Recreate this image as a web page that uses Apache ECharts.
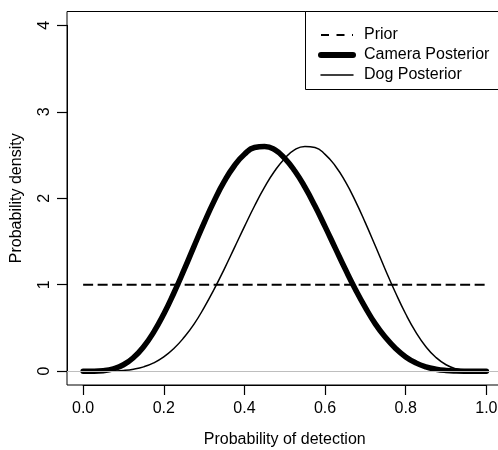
<!DOCTYPE html>
<html>
<head>
<meta charset="utf-8">
<script src="https://cdn.jsdelivr.net/npm/echarts@6/dist/echarts.min.js"></script>
<style>
  html, body { margin: 0; padding: 0; background: #fff; }
  #chart { width: 498px; height: 450px; }
</style>
</head>
<body>
<div id="chart"></div>
<script>
var detection = [0, 0.025, 0.05, 0.075, 0.1, 0.125, 0.15, 0.175, 0.2, 0.225, 0.25,
  0.275, 0.3, 0.325, 0.35, 0.375, 0.4, 0.425, 0.45, 0.475, 0.5,
  0.525, 0.55, 0.575, 0.6, 0.625, 0.65, 0.675, 0.7, 0.725, 0.75,
  0.775, 0.8, 0.825, 0.85, 0.875, 0.9, 0.925, 0.95, 0.975, 1];
var camera = [0, 0.0004, 0.006, 0.027, 0.074, 0.158, 0.283, 0.452, 0.661, 0.904, 1.168,
  1.444, 1.715, 1.970, 2.194, 2.376, 2.508, 2.587, 2.600, 2.562, 2.461,
  2.315, 2.128, 1.910, 1.672, 1.426, 1.181, 0.948, 0.735, 0.544, 0.389,
  0.262, 0.165, 0.096, 0.050, 0.023, 0.008, 0.002, 0.0003, 0, 0];
var dog = [0, 0, 0.0003, 0.002, 0.008, 0.023, 0.050, 0.096, 0.165, 0.262, 0.389,
  0.544, 0.735, 0.948, 1.181, 1.426, 1.672, 1.910, 2.128, 2.315, 2.461,
  2.562, 2.600, 2.587, 2.508, 2.376, 2.194, 1.970, 1.715, 1.444, 1.168,
  0.904, 0.661, 0.452, 0.283, 0.158, 0.074, 0.027, 0.006, 0.0004, 0];
var priorX = [0, 1];
var priorY = [1, 1];
var xTicks = [0, 0.2, 0.4, 0.6, 0.8, 1.0];
var yTicks = [0, 1, 2, 3, 4];

var font = 'Liberation Sans, Arial, sans-serif';

function pairs(xs, ys) {
  return xs.map(function (x, i) { return [x, ys[i]]; });
}

// plot box: data range padded by 4% on each side, as R does
var xPad = 0.04, yPad = 0.16;
var boxLeft = 67, boxTop = 11.5, boxW = 435.5, boxH = 373.5;
var xMin = xTicks[0], xMax = xTicks[xTicks.length - 1];
var yMin = yTicks[0], yMax = yTicks[yTicks.length - 1];
var xSpan = xMax - xMin + 2 * xPad, ySpan = yMax - yMin + 2 * yPad;
// inner grid covers only first..last tick, for R style axes
var axLeft = boxLeft + boxW * xPad / xSpan;
var axW = boxW * (xMax - xMin) / xSpan;
var axTop = boxTop + boxH * yPad / ySpan;
var axH = boxH * (yMax - yMin) / ySpan;

var chart = echarts.init(document.getElementById('chart'));

var option = {
  animation: false,
  grid: [{
    left: boxLeft,
    top: boxTop,
    width: boxW,
    height: boxH,
    outerBoundsMode: 'none',
    containLabel: false,
    show: true,
    borderColor: '#000',
    borderWidth: 1
  }, {
    left: axLeft,
    top: axTop,
    width: axW,
    height: axH,
    outerBoundsMode: 'none',
    containLabel: false,
    show: false
  }],
  // legend frame runs off the right edge, like the original
  graphic: [{
    type: 'rect',
    z: 10,
    shape: { x: 305.5, y: 11.5, width: 260, height: 78 },
    style: { fill: '#fff', stroke: '#000', lineWidth: 1 }
  }],
  legend: {
    data: [
      { name: 'Prior', lineStyle: { width: 2, type: [8, 7.5] } },
      { name: 'Camera Posterior', lineStyle: { width: 6 } },
      { name: 'Dog Posterior', lineStyle: { width: 1.5 } }
    ],
    z: 20,
    orient: 'vertical',
    left: 305,
    top: 11,
    padding: [16, 0, 9, 13],
    itemWidth: 32,
    itemHeight: 14,
    itemGap: 4,
    itemStyle: { opacity: 0 },
    textStyle: {
      fontFamily: font,
      fontSize: 16,
      lineHeight: 16,
      color: '#000',
      padding: [0, 0, 0, 6]
    }
  },
  xAxis: [{
    type: 'value',
    gridIndex: 0,
    min: xMin - xPad,
    max: xMax + xPad,
    show: false
  }, {
    type: 'value',
    gridIndex: 1,
    min: xMin,
    max: xMax,
    interval: 0.2,
    offset: boxTop + boxH - (axTop + axH),
    name: 'Probability of detection',
    nameLocation: 'middle',
    nameGap: 47,
    nameTextStyle: { fontFamily: font, fontSize: 16, color: '#000' },
    axisLine: { show: true, onZero: false, lineStyle: { color: '#000', width: 1 } },
    splitLine: { show: false },
    axisTick: { show: true, inside: false, length: 10, lineStyle: { color: '#000', width: 1.2 } },
    axisLabel: {
      margin: 16,
      fontFamily: font,
      fontSize: 16,
      color: '#000',
      showMinLabel: true,
      showMaxLabel: true,
      formatter: function (v) { return v.toFixed(1); }
    }
  }],
  yAxis: [{
    type: 'value',
    gridIndex: 0,
    min: yMin - yPad,
    max: yMax + yPad,
    show: false
  }, {
    type: 'value',
    gridIndex: 1,
    min: yMin,
    max: yMax,
    interval: 1,
    offset: axLeft - boxLeft,
    name: 'Probability density',
    nameLocation: 'middle',
    nameGap: 42,
    nameTextStyle: { fontFamily: font, fontSize: 16, color: '#000' },
    axisLine: { show: true, onZero: false, lineStyle: { color: '#000', width: 1 } },
    splitLine: { show: false },
    axisTick: { show: true, inside: false, length: 10, lineStyle: { color: '#000', width: 1.2 } },
    axisLabel: {
      rotate: 90,
      margin: 14,
      fontFamily: font,
      fontSize: 16,
      color: '#000',
      showMinLabel: true,
      showMaxLabel: true
    }
  }],
  series: [
    {
      name: 'base',
      type: 'line',
      data: [],
      z: 1,
      markLine: {
        silent: true,
        symbol: 'none',
        label: { show: false },
        lineStyle: { color: '#bebebe', type: 'solid', width: 1 },
        data: [{ yAxis: 0 }]
      }
    },
    {
      name: 'Prior',
      type: 'line',
      z: 2,
      symbol: 'none',
      data: pairs(priorX, priorY),
      lineStyle: { color: '#000', width: 2, type: [10, 4.5] },
      itemStyle: { color: '#000' }
    },
    {
      name: 'Camera Posterior',
      type: 'line',
      z: 3,
      symbol: 'none',
      smooth: true,
      data: pairs(detection, camera),
      lineStyle: { color: '#000', width: 5.5, cap: 'round', join: 'round' },
      itemStyle: { color: '#000' }
    },
    {
      name: 'Dog Posterior',
      type: 'line',
      z: 4,
      symbol: 'none',
      smooth: true,
      data: pairs(detection, dog),
      lineStyle: { color: '#000', width: 1.5, cap: 'round', join: 'round' },
      itemStyle: { color: '#000' }
    }
  ]
};

chart.setOption(option);
</script>
</body>
</html>
